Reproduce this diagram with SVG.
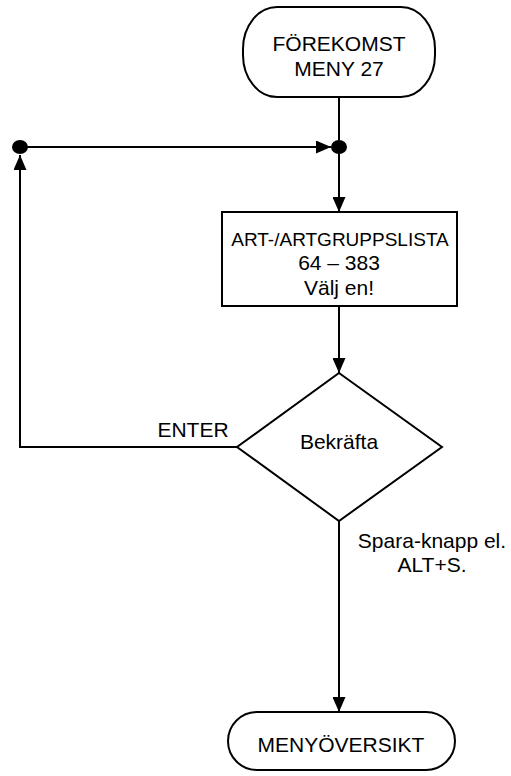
<svg xmlns="http://www.w3.org/2000/svg" width="511" height="776" viewBox="0 0 511 776">
<style>
.s{fill:#fff;stroke:#000;stroke-width:2}
.c{fill:none;stroke:#000;stroke-width:2}
.t{font-family:"Liberation Sans",Arial,sans-serif;font-size:21px;fill:#000;text-anchor:middle}
.dot{fill:#000}
</style>
<defs>
<marker id="ah" markerWidth="15" markerHeight="13" refX="15" refY="6.5" orient="auto" markerUnits="userSpaceOnUse">
<path d="M0,0 L15,6.5 L0,13 z" fill="#000"/>
</marker>
</defs>
<g id="connectors">
<path class="c" d="M339,97 V147"/>
<path class="c" d="M20,147 H331" marker-end="url(#ah)"/>
<path class="c" d="M339,147 V212" marker-end="url(#ah)"/>
<path class="c" d="M339,306 V373" marker-end="url(#ah)"/>
<path class="c" d="M237,447 H20 V155" marker-end="url(#ah)"/>
<path class="c" d="M339,521 V712" marker-end="url(#ah)"/>
<ellipse class="dot" cx="20" cy="147" rx="8" ry="7"/>
<ellipse class="dot" cx="339" cy="147" rx="8" ry="7"/>
<text class="t" x="193" y="437">ENTER</text>
<text class="t" x="432" y="548">Spara-knapp el.</text>
<text class="t" x="432" y="572">ALT+S.</text>
</g>
<g id="start">
<rect class="s" x="243" y="7" width="192" height="90" rx="34" ry="42"/>
<text class="t" x="339" y="51">FÖREKOMST</text>
<text class="t" x="339" y="76">MENY 27</text>
</g>
<g id="list">
<rect class="s" x="222" y="212" width="235" height="94"/>
<text class="t" x="340" y="246" style="font-size:19px">ART-/ARTGRUPPSLISTA</text>
<text class="t" x="339" y="270">64 – 383</text>
<text class="t" x="339" y="295">Välj en!</text>
</g>
<g id="confirm">
<polygon class="s" points="339,373 442,447 339,521 237,447"/>
<text class="t" x="339" y="449">Bekräfta</text>
</g>
<g id="end">
<rect class="s" x="228" y="712" width="227" height="58" rx="29" ry="29"/>
<text class="t" x="341" y="752">MENYÖVERSIKT</text>
</g>
</svg>
